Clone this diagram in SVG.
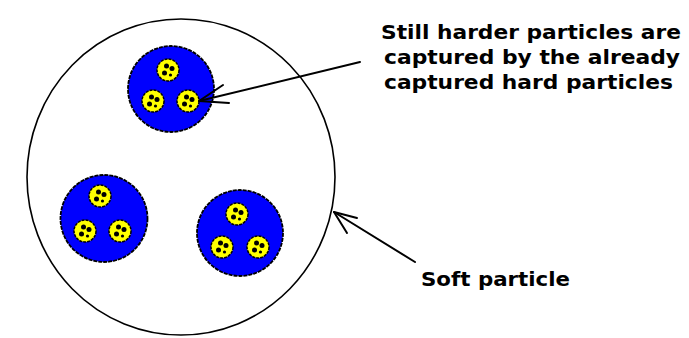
<svg xmlns="http://www.w3.org/2000/svg" width="689" height="338" viewBox="0 0 689 338">
<style>
.soft{fill:#fff;stroke:#000;stroke-width:1.6}
.hard{fill:#0000fe;stroke:#000;stroke-width:1.8;stroke-dasharray:4 1}
.harder{fill:#ffff00;stroke:#000;stroke-width:1.5;stroke-dasharray:3 1}
.dot{fill:#000}
.lbl{font-family:"DejaVu Sans","Liberation Sans",sans-serif;font-weight:bold;font-size:20px;fill:#000}
.conn{fill:none;stroke:#000;stroke-width:2;stroke-linecap:round;stroke-linejoin:round}
</style>
<defs>
<g id="p">
<circle class="harder" r="11"/>
<circle class="dot" cx="-1.5" cy="-4" r="2.5"/>
<circle class="dot" cx="4" cy="-1.5" r="2.5"/>
<circle class="dot" cx="-3.5" cy="3" r="2.5"/>
<circle class="dot" cx="2.5" cy="5" r="1.6"/>
</g>
</defs>
<rect width="689" height="338" fill="#fff"/>
<g id="soft-particle">
<ellipse class="soft" cx="181" cy="177" rx="154" ry="158"/>
</g>
<g id="hard-top">
<circle class="hard" cx="171" cy="89" r="43"/>
<use href="#p" x="168" y="70"/>
<use href="#p" x="153" y="101"/>
<use href="#p" x="188" y="101"/>
</g>
<g id="hard-left">
<circle class="hard" cx="104" cy="218.5" r="43.5"/>
<use href="#p" x="100" y="196"/>
<use href="#p" x="85" y="231"/>
<use href="#p" x="120" y="231"/>
</g>
<g id="hard-right">
<circle class="hard" cx="240" cy="233" r="43"/>
<use href="#p" x="237" y="214"/>
<use href="#p" x="222" y="247"/>
<use href="#p" x="258" y="247"/>
</g>
<g id="connectors">
<path class="conn" d="M360,62 L199,101"/>
<path class="conn" d="M223,85 L199,101 L229,103"/>
<path class="conn" d="M415,262 L334,212"/>
<path class="conn" d="M357,218 L334,212 L347,233"/>
</g>
<g id="label-harder">
<text class="lbl" x="381" y="39" textLength="300" lengthAdjust="spacingAndGlyphs">Still harder particles are</text>
<text class="lbl" x="384" y="64" textLength="296" lengthAdjust="spacingAndGlyphs">captured by the already</text>
<text class="lbl" x="384" y="89" textLength="289" lengthAdjust="spacingAndGlyphs">captured hard particles</text>
</g>
<g id="label-soft">
<text class="lbl" x="421" y="286" textLength="149" lengthAdjust="spacingAndGlyphs">Soft particle</text>
</g>
</svg>
